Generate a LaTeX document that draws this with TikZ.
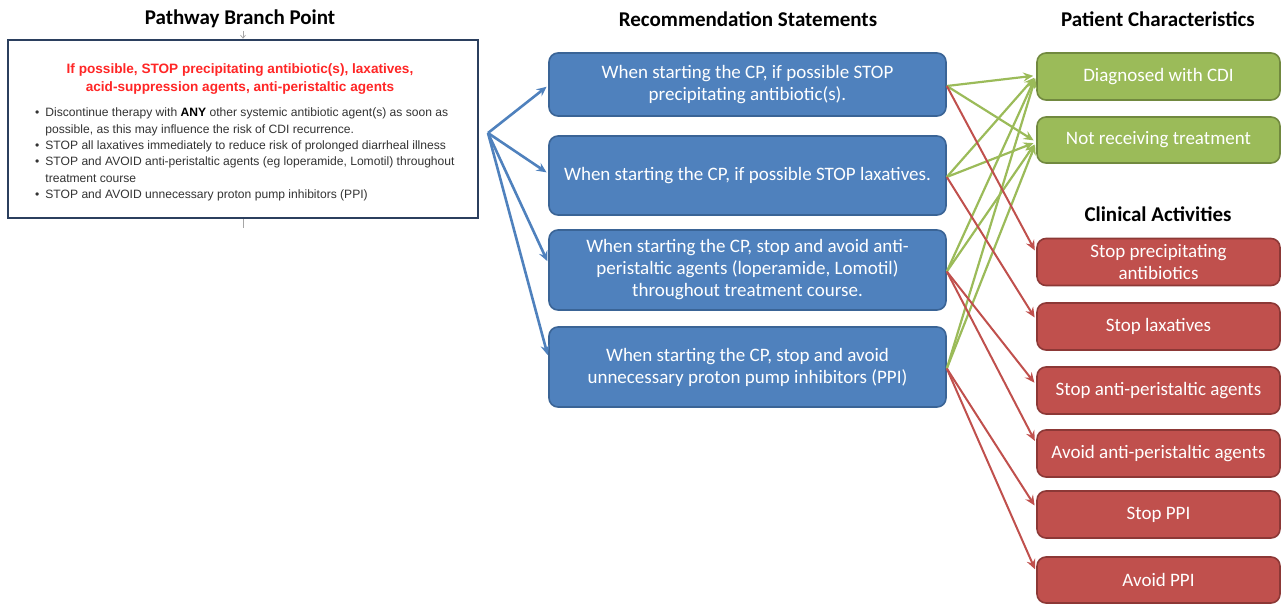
\documentclass[tikz,border=0pt]{standalone}
\usepackage{fontspec}
\setmainfont{Carlito}
\newfontfamily\arialf{Liberation Sans}
\usetikzlibrary{arrows.meta}
\definecolor{recf}{HTML}{4F81BD}
\definecolor{recd}{HTML}{3A6496}
\definecolor{patf}{HTML}{9BBB59}
\definecolor{patd}{HTML}{71893F}
\definecolor{actf}{HTML}{C0504D}
\definecolor{actd}{HTML}{8C3836}
\definecolor{navy}{HTML}{2B3F5E}
\definecolor{headred}{HTML}{FF2626}
\definecolor{txtgray}{HTML}{333333}
\tikzset{
  boxbase/.style={rounded corners=9pt, line width=1.6pt, text=white, align=center,
    inner sep=0pt, font=\fontsize{19}{22}\selectfont},
  recbox/.style={boxbase, draw=recd, fill=recf, minimum width=397pt},
  patbox/.style={boxbase, draw=patd, fill=patf, minimum width=243pt},
  actbox/.style={boxbase, draw=actd, fill=actf, minimum width=243pt, minimum height=47pt},
  coltitle/.style={font=\bfseries\fontsize{21}{24}\selectfont, text=black},
  tip/.style={-{Stealth[length=10pt,width=9pt,inset=3.5pt]}},
  barrow/.style={tip, draw=recf, line width=2.6pt, shorten >=2pt},
  garrow/.style={tip, draw=patf, line width=2.2pt, shorten >=3pt},
  rarrow/.style={tip, draw=actf, line width=2pt, shorten >=3pt},
}
\begin{document}
\begin{tikzpicture}[x=1pt,y=-1pt]
\useasboundingbox (0,0) rectangle (1284,604);
% column titles
\node[coltitle] (t1) at (240,19) {Pathway Branch Point};
\node[coltitle] (t2) at (748,19) {Recommendation Statements};
\node[coltitle] (t3) at (1158,19) {Patient Characteristics};
\node[coltitle] (t4) at (1158,214) {Clinical Activities};
% pathway branch point box
\node[draw=navy, line width=2.6pt, fill=white, minimum width=470pt, minimum height=178pt, inner sep=0pt] (pb) at (243,129) {};
\node[font=\arialf\bfseries\fontsize{13.6}{18}\selectfont, text=headred, align=center] (ph) at (240,79)
  {If possible, STOP precipitating antibiotic(s), laxatives,\\acid-suppression agents, anti-peristaltic agents};
\node[anchor=north west, inner sep=0pt, font=\arialf\fontsize{12.1}{16.4}\selectfont, text=txtgray] (pl) at (35,105)
  {\begin{tabular}{@{}l@{\hspace{6pt}}l@{}}
  \textbullet & Discontinue therapy with \textbf{\color{black}ANY} other systemic antibiotic agent(s) as soon as\\
   & possible, as this may influence the risk of CDI recurrence.\\
  \textbullet & STOP all laxatives immediately to reduce risk of prolonged diarrheal illness\\
  \textbullet & STOP and AVOID anti-peristaltic agents (eg loperamide, Lomotil) throughout\\
   & treatment course\\
  \textbullet & STOP and AVOID unnecessary proton pump inhibitors (PPI)
  \end{tabular}};
\coordinate (pin) at (243,31);
\coordinate (pout) at (243,228);
\draw[gray!70, line width=0.7pt, -{Straight Barb[length=3pt,width=5pt]}] (pin) -- (pb.north);
\draw[gray!70, line width=0.8pt] (pb.south) -- (pout);
% recommendation statements
\node[recbox, minimum height=63pt] (r1) at (747.5,84.5) {When starting the CP, if possible STOP\\precipitating antibiotic(s).};
\node[recbox, minimum height=79pt] (r2) at (747.5,175.5) {When starting the CP, if possible STOP laxatives.};
\node[recbox, minimum height=80pt] (r3) at (747.5,270) {When starting the CP, stop and avoid anti-\\peristaltic agents (loperamide, Lomotil)\\throughout treatment course.};
\node[recbox, minimum height=80pt] (r4) at (747.5,367) {When starting the CP, stop and avoid\\unnecessary proton pump inhibitors (PPI)};
% patient characteristics
\node[patbox, minimum height=47pt] (p1) at (1158.5,76.5) {Diagnosed with CDI};
\node[patbox, minimum height=46pt] (p2) at (1158.5,140) {Not receiving treatment};
% clinical activities
\node[actbox] (a1) at (1158.5,262) {Stop precipitating\\antibiotics};
\node[actbox] (a2) at (1158.5,326.5) {Stop laxatives};
\node[actbox] (a3) at (1158.5,390.5) {Stop anti-peristaltic agents};
\node[actbox] (a4) at (1158.5,453.5) {Avoid anti-peristaltic agents};
\node[actbox] (a5) at (1158.5,514.5) {Stop PPI};
\node[actbox, minimum height=46pt] (a6) at (1158.5,580) {Avoid PPI};
% blue connectors
\coordinate (bo) at (488,133);
\draw[barrow] (bo) -- ([yshift=-1pt]r1.west);
\draw[barrow] (bo) -- ([yshift=2pt]r2.west);
\draw[barrow] (bo) -- ([yshift=7pt]r3.west);
\draw[barrow] (bo) -- ([yshift=10pt]r4.west);
% green connectors
\foreach \r in {r1,r2,r3,r4}{
  \draw[garrow] ([yshift=-1.5pt]\r.east) -- ([yshift=1pt]p1.west);
  \draw[garrow] ([yshift=-1.5pt]\r.east) -- ([yshift=-2pt]p2.west);
}
% red connectors
\draw[rarrow] ([yshift=-1.5pt]r1.east) -- ([yshift=9pt]a1.west);
\draw[rarrow] ([yshift=-1.5pt]r2.east) -- ([yshift=6.5pt]a2.west);
\draw[rarrow] ([yshift=-1.5pt]r3.east) -- ([yshift=5.5pt]a3.west);
\draw[rarrow] ([yshift=-1.5pt]r3.east) -- ([yshift=10pt]a4.west);
\draw[rarrow] ([yshift=-1.5pt]r4.east) -- ([yshift=6.5pt]a5.west);
\draw[rarrow] ([yshift=-1.5pt]r4.east) -- ([yshift=8pt]a6.west);
\end{tikzpicture}
\end{document}
